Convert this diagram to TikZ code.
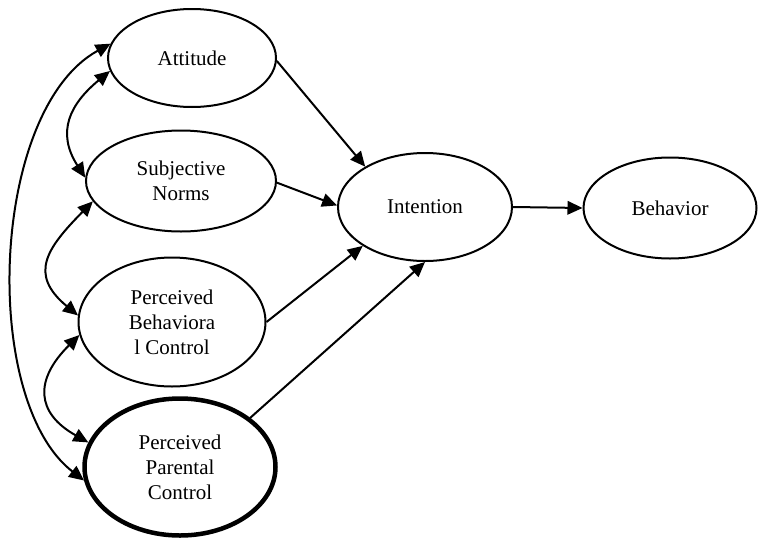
\documentclass[tikz,border=0pt]{standalone}
\usepackage{fontspec}
\setmainfont{Liberation Serif}
\usetikzlibrary{shapes.geometric,arrows.meta}
\begin{document}
\begin{tikzpicture}[x=1pt,y=-1pt,
  oval/.style={ellipse,draw,line width=2pt,inner sep=0pt,align=center,font=\fontsize{21}{25}\selectfont},
  conn/.style={line width=2pt,-{Triangle[length=15pt,width=13.5pt]}},
  biconn/.style={line width=2pt,{Triangle[length=15pt,width=13.5pt]}-{Triangle[length=15pt,width=13.5pt]}}]
\useasboundingbox[fill=white] (0,0) rectangle (759,541);
\node[oval,minimum width=168pt,minimum height=98pt] (att) at (192,58) {Attitude};
\node[oval,minimum width=190pt,minimum height=101pt] (sn) at (181,181) {Subjective\\Norms};
\node[oval,minimum width=187pt,minimum height=129pt] (pbc) at (172,322) {Perceived\\Behaviora\\l Control};
\node[oval,line width=4.5pt,minimum width=191pt,minimum height=137pt] (ppc) at (180,467) {Perceived\\Parental\\Control};
\node[oval,minimum width=174pt,minimum height=108pt] (int) at (425,207) {Intention};
\node[oval,minimum width=173pt,minimum height=101pt] (beh) at (670,208) {Behavior};
\draw[conn] (att.-2) -- (int.146);
\draw[conn] (sn.-1) -- (int.179);
\draw[conn] (pbc.0) -- (int.212);
\draw[conn] (ppc.35) -- (int.south);
\draw[conn] (int.east) -- (beh.west);
\draw[biconn] (att.170) .. controls (-10,110) and (-20,400) .. (ppc.188);
\draw[biconn] (att.189) .. controls (70,104) and (56,132) .. (sn.178);
\draw[biconn] (sn.193) .. controls (47,248) and (28,274) .. (pbc.176);
\draw[biconn] (pbc.188) .. controls (34,380) and (36,413) .. (ppc.165);
\end{tikzpicture}
\end{document}
